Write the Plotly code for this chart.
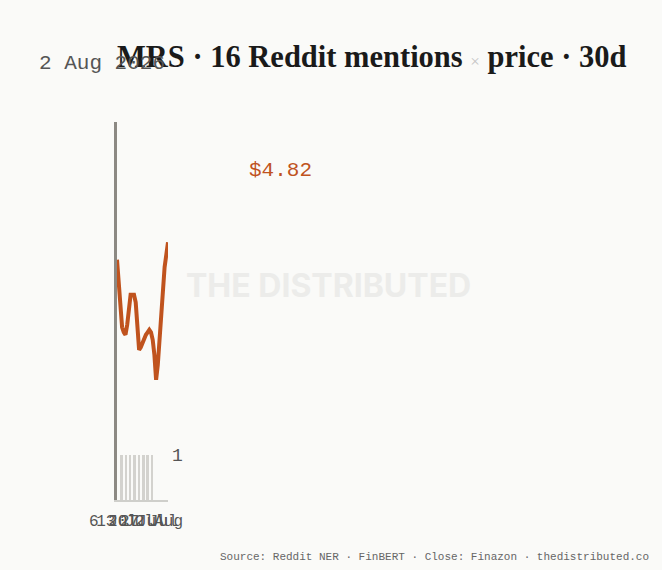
import plotly.graph_objects as go

# 30-day daily closes (USD)
price_dates = [
    "2026-07-03", "2026-07-04", "2026-07-05", "2026-07-06", "2026-07-07",
    "2026-07-08", "2026-07-09", "2026-07-10", "2026-07-11", "2026-07-12",
    "2026-07-13", "2026-07-14", "2026-07-15", "2026-07-16", "2026-07-17",
    "2026-07-18", "2026-07-19", "2026-07-20", "2026-07-21", "2026-07-22",
    "2026-07-23", "2026-07-24", "2026-07-25", "2026-07-26", "2026-07-27",
    "2026-07-28", "2026-07-29", "2026-07-30", "2026-07-31", "2026-08-01",
    "2026-08-02",
]
close = [
    4.75, 4.66, 4.56, 4.48, 4.46, 4.45, 4.49, 4.56, 4.61, 4.61,
    4.61, 4.58, 4.48, 4.39, 4.40, 4.42, 4.43, 4.45, 4.46, 4.47,
    4.46, 4.43, 4.37, 4.27, 4.33, 4.42, 4.53, 4.65, 4.72, 4.77,
    4.82,
]

# Reddit mentions (bucketed)
mention_dates = [
    "2026-07-05 17:00", "2026-07-08 06:00", "2026-07-10 19:00", "2026-07-13 08:00",
    "2026-07-15 22:00", "2026-07-18 11:00", "2026-07-21 00:00", "2026-07-23 13:00",
]
mentions = [1, 1, 1, 1, 1, 1, 1, 1]

tick_dates = ["2026-07-06", "2026-07-13", "2026-07-20", "2026-07-27", "2026-08-02"]
tick_text = ["6 Jul", "13 Jul", "20 Jul", "27 Jul", "2 Aug"]

ticker = "MRS"
as_of = "2 Aug 2026"
last_price = "$4.82"

BG = "#fafaf8"
ORANGE = "#c0531e"
MONO = "Liberation Mono, DejaVu Sans Mono, monospace"

fig = go.Figure()
fig.add_trace(go.Bar(
    x=mention_dates, y=mentions, yaxis="y2",
    width=1.45 * 86400000,
    marker=dict(color="#d3d2ce", line_width=0),
    hoverinfo="skip",
))
fig.add_trace(go.Scatter(
    x=price_dates, y=close, mode="lines",
    line=dict(color=ORANGE, width=4),
))

fig.update_layout(
    width=662, height=570,
    paper_bgcolor=BG, plot_bgcolor=BG,
    showlegend=False,
    margin=dict(l=117, r=494, t=122, b=70),
    title=dict(
        text=f"{ticker} · 16 Reddit mentions <span style='color:#c4c4c4;font-size:17px;font-weight:normal'>×</span> price · 30d",
        x=0, xref="paper", xanchor="left",
        y=1 - 56 / 570, yanchor="middle",
        font=dict(family="Liberation Serif, DejaVu Serif, serif", size=30.5,
                  color="#1a1a1a", weight="bold"),
    ),
    xaxis=dict(
        type="date",
        range=["2026-07-03", "2026-08-02"],
        showgrid=False, zeroline=False,
        showline=True, linecolor="#cfcfcb", linewidth=2,
        tickvals=tick_dates, ticktext=tick_text,
        ticks="", tickangle=0, ticklabelshift=-9, ticklabelstandoff=5,
        tickfont=dict(family=MONO, size=16, color="#555"),
    ),
    yaxis=dict(
        range=[3.79, 5.30],
        showgrid=False, zeroline=False,
        showline=True, linecolor="#8c8983", linewidth=3,
        showticklabels=False, ticks="",
    ),
    yaxis2=dict(
        overlaying="y", side="right",
        range=[0, 8.4],
        showgrid=False, zeroline=False, showline=False,
        tickvals=[1], ticktext=["1"], ticks="", ticklabelstandoff=3,
        tickfont=dict(family=MONO, size=18, color="#555"),
    ),
    bargap=0,
)

fig.add_annotation(
    text=as_of, xref="paper", yref="paper",
    x=(37 - 117) / 51, y=(500 - 63) / 378,
    xanchor="left", yanchor="middle", showarrow=False,
    font=dict(family=MONO, size=21, color="#555"),
)
fig.add_annotation(
    text=last_price, xref="paper", yref="paper",
    x=(247 - 117) / 51, y=(500 - 170) / 378,
    xanchor="left", yanchor="middle", showarrow=False,
    font=dict(family=MONO, size=21, color=ORANGE),
)
fig.add_annotation(
    text="<b>THE DISTRIBUTED</b>", xref="paper", yref="paper",
    x=(184 - 117) / 51, y=(500 - 285) / 378,
    xanchor="left", yanchor="middle", showarrow=False,
    font=dict(family="Inter, Roboto, sans-serif", size=32, color="#ececea"),
)
fig.add_annotation(
    text="Source: Reddit NER · FinBERT · Close: Finazon · thedistributed.co",
    xref="paper", yref="paper",
    x=(651 - 117) / 51, y=(500 - 557) / 378,
    xanchor="right", yanchor="middle", showarrow=False,
    font=dict(family=MONO, size=11, color="#666"),
)

fig.write_html("out.html", config={"displayModeBar": False},
               post_script="document.body.style.margin='0';")
